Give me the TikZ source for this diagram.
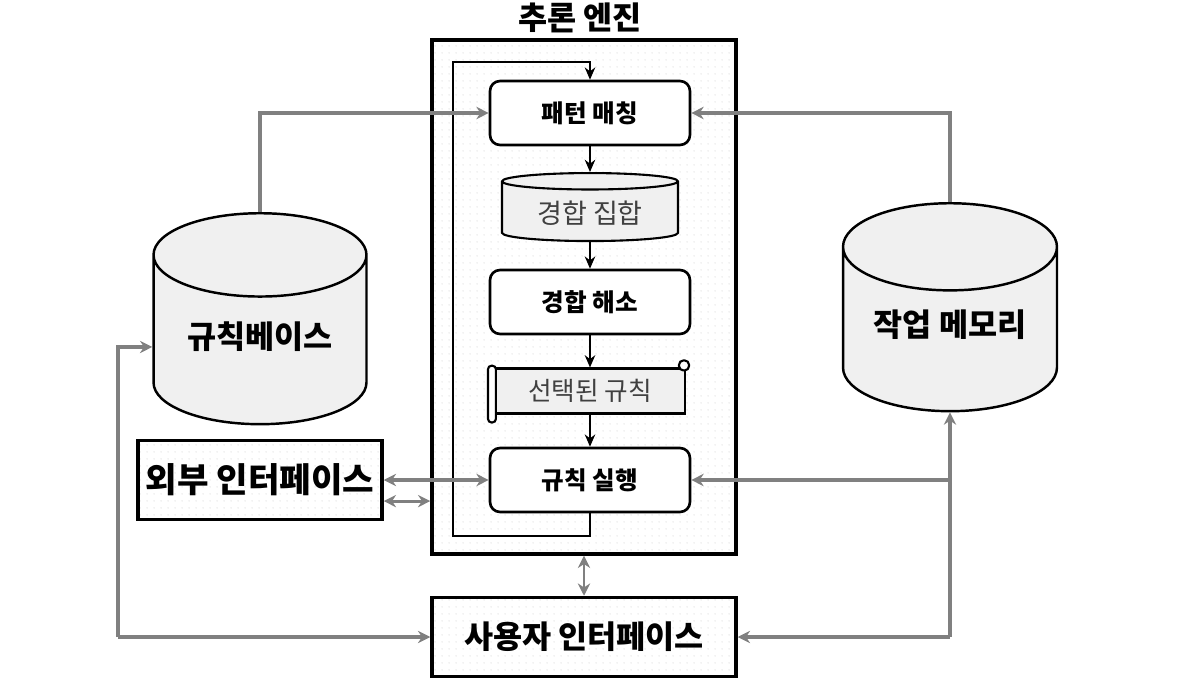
\documentclass[tikz,border=0pt]{standalone}
\usepackage{fontspec}
\setmainfont{Noto Sans CJK KR}
\usetikzlibrary{shapes.geometric,arrows.meta,patterns.meta}
\definecolor{linegray}{rgb}{0.5, 0.5, 0.5}
\definecolor{softgray}{rgb}{0.94, 0.94, 0.94}
\definecolor{textgray}{rgb}{0.25, 0.25, 0.25}

\begin{document}
\begin{tikzpicture}[x=0.02cm, y=-0.02cm,
  dotbg/.style={preaction={fill=white}, pattern={Dots[distance=4pt, radius=0.35pt]}, pattern color=black!22},
  plainbox/.style={draw, line width=2pt, dotbg, font=\bfseries\fontsize{18}{21}\selectfont},
  stepbox/.style={draw, rounded corners=0.2cm, line width=1.5pt, fill=white, minimum width=4cm, minimum height=1.28cm, font=\bfseries\fontsize{14}{17}\selectfont},
  store/.style={cylinder, shape border rotate=90, aspect=0.53, draw, line width=1.4pt, fill=softgray, anchor=north, font=\bfseries\fontsize{18}{21}\selectfont},
  flow/.style={-{Stealth[length=7pt, width=6pt]}, line width=0.9pt},
  link/.style={-{Stealth[length=7pt, width=7pt]}, linegray, line width=1.8pt},
  linkboth/.style={{Stealth[length=7pt, width=7pt]}-{Stealth[length=7pt, width=7pt]}, linegray, line width=1.8pt}]
  \useasboundingbox (0,0) rectangle (1188,690);

  % Engine frame
  \node[plainbox, minimum width=6.08cm, minimum height=10.28cm] (engine) at (584,297) {};
  \node[font=\bfseries\fontsize{18}{21}\selectfont] (title) at (580,18) {추론 엔진};

  % Engine steps
  \node[stepbox] (match) at (590,113) {패턴 매칭};
  \node[cylinder, shape border rotate=90, aspect=0.14, draw, line width=1.2pt, fill=softgray, anchor=north,
        minimum width=3.52cm, minimum height=1.36cm, text=textgray,
        font=\fontsize{15.4}{18}\selectfont] (cset) at (590,172) {경합 집합};
  \node[stepbox] (resolve) at (590,302) {경합 해소};
  \node[draw, line width=1.2pt, fill=softgray, minimum width=3.8cm, minimum height=0.9cm,
        text=textgray, font=\fontsize{14.6}{17}\selectfont] (sel) at (590,391) {선택된 규칙};
  \draw[line width=1.2pt, fill=white, rounded corners=2pt]
    ([xshift=-3.4pt, yshift=1pt]sel.north west) rectangle ([xshift=1.1pt, yshift=-4.5pt]sel.south west);
  \draw[line width=1.2pt, fill=white, rounded corners=2.5pt]
    ([xshift=-4pt, yshift=4pt]sel.north east) rectangle ([xshift=1.7pt, yshift=-1.7pt]sel.north east);
  \node[stepbox] (exec) at (590,480) {규칙 실행};

  % Outside parts
  \node[store, minimum width=4.26cm, minimum height=4.22cm] (rb) at (260,212) {\raisebox{5.7pt}[\height][\depth]{규칙베이스}};
  \node[store, minimum width=4.28cm, minimum height=4.16cm] (wm) at (950,202) {\raisebox{7pt}[\height][\depth]{작업 메모리}};
  \node[plainbox, minimum width=4.88cm, minimum height=1.58cm, font=\bfseries\fontsize{19.5}{23}\selectfont] (ext) at (260,480) {외부 인터페이스};
  \node[plainbox, minimum width=6.08cm, minimum height=1.58cm] (ui) at (584,637) {사용자 인터페이스};

  % Inner flow
  \coordinate (loopbl) at (453,536);
  \coordinate (looptl) at (453,62);
  \draw[flow] (match) -- (cset);
  \draw[flow] (cset) -- (resolve);
  \draw[flow] (resolve) -- (sel);
  \draw[flow] (sel) -- (exec);
  \draw[flow] (exec.south) |- (loopbl) -- (looptl) -| (match.north);

  % Links
  \coordinate (lbend) at (118,637);
  \draw[link] (rb.north) |- (match.west);
  \draw[link] (wm.north) |- (match.east);
  \draw[link] (wm.south |- ui.east) -- (ui.east);
  \draw[link] (wm.south |- ui.east) -- (wm.south);
  \draw[link] (wm.south |- exec.east) -- (exec.east);
  \draw[link] (lbend) -- (ui.west);
  \draw[link] (lbend) |- (rb.west);
  \draw[linkboth] (ext.east) -- (exec.west);
  \draw[linkboth] ([yshift=-12pt]ext.east) -- ([yshift=-12pt]ext.east -| engine.west);
  \draw[linkboth, line width=1.2pt] (engine.south) -- (ui.north);
\end{tikzpicture}
\end{document}
